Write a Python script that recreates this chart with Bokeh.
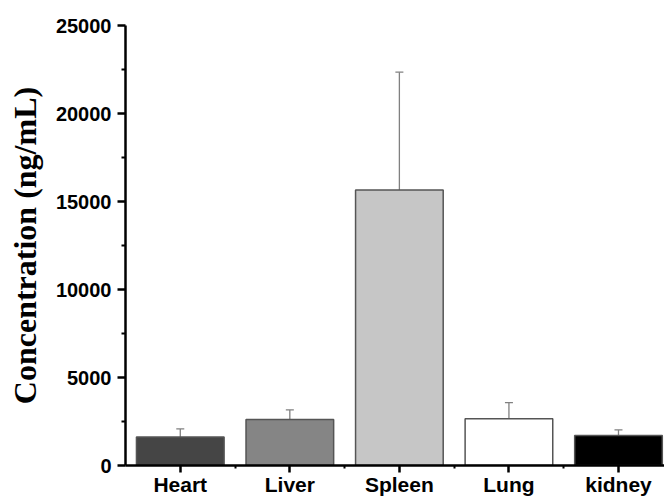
from bokeh.plotting import figure
from bokeh.models import Range1d, FixedTicker
from bokeh.embed import file_html
from bokeh.resources import INLINE

categories = ["Heart", "Liver", "Spleen", "Lung", "kidney"]
values = [1620, 2620, 15650, 2660, 1700]
errors = [460, 540, 6700, 910, 320]
colors = ["#454545", "#858585", "#c6c6c6", "#ffffff", "#000000"]
y_ticks = [0, 5000, 10000, 15000, 20000, 25000]
y_minor = [2500, 7500, 12500, 17500, 22500]

xs = list(range(len(categories)))
tops = [v + e for v, e in zip(values, errors)]

p = figure(width=664, height=499, x_range=Range1d(-0.5, 4.42), y_range=Range1d(0, 25000),
           output_backend="svg", toolbar_location=None,
           min_border_left=125, min_border_top=25, min_border_right=0, min_border_bottom=34)
p.outline_line_color = None
p.grid.visible = False
p.background_fill_color = "white"
p.border_fill_color = "white"

p.segment(x0=xs, y0=values, x1=xs, y1=tops, line_color="#808080", line_width=1.3)
p.scatter(x=xs, y=tops, marker="dash", size=8, line_color="#808080", line_width=1.3)
p.vbar(x=xs, top=values, width=0.8, fill_color=colors, line_color="#555555", line_width=1.5)

for ax in (p.xaxis, p.yaxis):
    ax.axis_line_width = 2.5
    ax.axis_line_color = "black"
    ax.major_tick_line_width = 2.5
    ax.major_tick_line_color = "black"
    ax.minor_tick_line_width = 2
    ax.minor_tick_line_color = "black"
    ax.major_tick_in = 0
    ax.minor_tick_in = 0
    ax.major_label_text_font = "Liberation Sans"
    ax.major_label_text_font_style = "bold"
    ax.major_label_text_color = "black"

p.yaxis.ticker = FixedTicker(ticks=y_ticks, minor_ticks=y_minor)
p.yaxis.major_label_text_font_size = "20px"
p.yaxis.major_tick_out = 8
p.yaxis.minor_tick_out = 4
p.yaxis.major_label_standoff = 6
p.yaxis.axis_label = "Concentration (ng/mL)"
p.yaxis.axis_label_text_font = "Liberation Serif"
p.yaxis.axis_label_text_font_style = "bold"
p.yaxis.axis_label_text_font_size = "32px"
p.yaxis.axis_label_text_color = "black"
p.yaxis.axis_label_standoff = 10

p.xaxis.ticker = FixedTicker(ticks=xs, minor_ticks=[0.5, 1.5, 2.5, 3.5])
p.xaxis.major_label_overrides = {i: c for i, c in enumerate(categories)}
p.xaxis.major_label_text_font_size = "21px"
p.xaxis.major_tick_out = 7
p.xaxis.minor_tick_out = 3
p.xaxis.major_label_standoff = 0

open("out.html", "w").write(file_html(p, INLINE))
